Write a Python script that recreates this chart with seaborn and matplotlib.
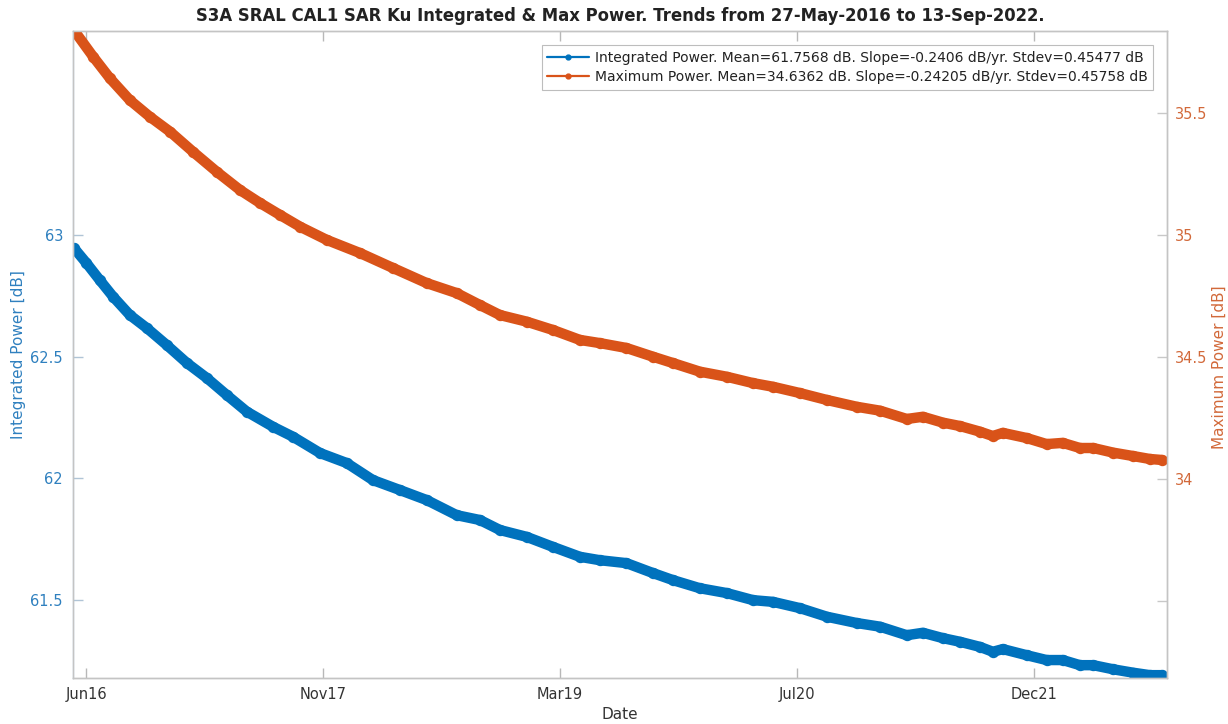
import numpy as np
import pandas as pd
import matplotlib
matplotlib.use("Agg")
import matplotlib.pyplot as plt
from matplotlib.lines import Line2D
import seaborn as sns

# ---------------- data ----------------
start_date = "2016-05-27"
end_date = "2022-09-13"

int_days = [3, 29, 57, 85, 120, 156, 198, 240, 282, 324, 366, 421, 463, 520,
            576, 631, 688, 744, 807, 856, 898, 954, 1009, 1066, 1108, 1164, 1220,
            1262, 1318, 1375, 1430, 1472, 1529, 1585, 1648, 1697, 1753, 1787, 1829,
            1865, 1907, 1934, 1955, 2005, 2047, 2081, 2117, 2145, 2187, 2229, 2264, 2289]
int_power = [62.945, 62.884, 62.814, 62.746, 62.671, 62.617, 62.547, 62.474,
             62.412, 62.342, 62.274, 62.212, 62.171, 62.104, 62.063, 61.993, 61.952,
             61.911, 61.849, 61.829, 61.788, 61.760, 61.719, 61.678, 61.664, 61.652,
             61.611, 61.582, 61.549, 61.529, 61.500, 61.493, 61.467, 61.432, 61.406,
             61.391, 61.356, 61.366, 61.344, 61.329, 61.308, 61.288, 61.299, 61.274,
             61.254, 61.254, 61.233, 61.233, 61.216, 61.202, 61.192, 61.192]

max_days = [5, 43, 78, 120, 162, 205, 253, 303, 352, 394, 436, 478, 534, 604,
            673, 744, 807, 856, 898, 954, 1009, 1066, 1108, 1164, 1220, 1262, 1318,
            1375, 1430, 1472, 1529, 1585, 1648, 1697, 1753, 1787, 1829, 1865, 1907,
            1934, 1955, 2005, 2047, 2081, 2117, 2145, 2187, 2229, 2264, 2289]
max_power = [35.833, 35.731, 35.643, 35.553, 35.485, 35.423, 35.341, 35.259,
             35.184, 35.131, 35.082, 35.034, 34.980, 34.926, 34.865, 34.803, 34.762,
             34.713, 34.672, 34.645, 34.611, 34.570, 34.557, 34.537, 34.501, 34.475,
             34.440, 34.419, 34.393, 34.378, 34.352, 34.324, 34.296, 34.280, 34.246,
             34.255, 34.231, 34.217, 34.194, 34.176, 34.189, 34.168, 34.143, 34.148,
             34.127, 34.127, 34.108, 34.094, 34.082, 34.078]

xtick_dates = ["2016-06-24", "2017-11-04", "2019-03-17", "2020-07-27", "2021-12-07"]
xtick_labels = ["Jun16", "Nov17", "Mar19", "Jul20", "Dec21"]
left_ticks = [61.5, 62, 62.5, 63]
left_tick_labels = ["61.5", "62", "62.5", "63"]
right_ticks = [33.5, 34, 34.5, 35, 35.5]
right_tick_labels = ["", "34", "34.5", "35", "35.5"]

label_int = "Integrated Power. Mean=61.7568 dB. Slope=-0.2406 dB/yr. Stdev=0.45477 dB"
label_max = "Maximum Power. Mean=34.6362 dB. Slope=-0.24205 dB/yr. Stdev=0.45758 dB"
title = "S3A SRAL CAL1 SAR Ku Integrated & Max Power. Trends from 27-May-2016 to 13-Sep-2022."

# ---------------- styling ----------------
BLUE = "#0072BD"
ORANGE = "#D95319"
BLUE_TXT = "#2f80bf"
ORANGE_TXT = "#d2693a"
SPINE = "#c4c4c4"

sns.set_style("white")
plt.rcParams["font.family"] = ["DejaVu Sans"]

t0 = pd.Timestamp(start_date)
df_int = pd.DataFrame({"date": t0 + pd.to_timedelta(int_days, unit="D"), "value": int_power})
df_max = pd.DataFrame({"date": t0 + pd.to_timedelta(max_days, unit="D"), "value": max_power})

fig = plt.figure(figsize=(12.28, 7.24), dpi=100)
ax = fig.add_axes([0.0592, 0.0631, 0.8911, 0.894])
ax2 = ax.twinx()

line_kw = dict(estimator=None, sort=False, linewidth=7.5, marker="o", markersize=7,
               markeredgewidth=1.2, legend=False)
sns.lineplot(data=df_int, x="date", y="value", ax=ax, color=BLUE,
             markerfacecolor=BLUE, markeredgecolor=BLUE, **line_kw)
sns.lineplot(data=df_max, x="date", y="value", ax=ax2, color=ORANGE,
             markerfacecolor=ORANGE, markeredgecolor=ORANGE, **line_kw)

ax.set_xlim(pd.Timestamp(start_date), pd.Timestamp(end_date))
ax.set_ylim(61.179, 63.837)
ax2.set_ylim(33.183, 35.836)

ax.set_xticks(pd.to_datetime(xtick_dates))
ax.set_xticklabels(xtick_labels)
ax.set_yticks(left_ticks)
ax.set_yticklabels(left_tick_labels)
ax2.set_yticks(right_ticks)
ax2.set_yticklabels(right_tick_labels)

ax.tick_params(axis="x", which="both", direction="in", length=7, width=1,
               color="#b8b8b8", labelsize=10.5, labelcolor="#333333", pad=6,
               top=True, bottom=True)
ax.tick_params(axis="y", direction="in", length=7, width=1, color="#b0c4d6",
               labelsize=10.5, labelcolor=BLUE_TXT, pad=7, left=True, right=False)
ax2.tick_params(axis="y", direction="in", length=7, width=1, color="#c8c8c8",
                labelsize=10.5, labelcolor=ORANGE_TXT, pad=6, right=True, left=False)

for a in (ax, ax2):
    for s in a.spines.values():
        s.set_color(SPINE)
        s.set_linewidth(1)
ax.spines["left"].set_color("#b0c4d6")

ax.set_xlabel("Date", fontsize=11, color="#333333", labelpad=4)
ax.set_ylabel("Integrated Power [dB]", fontsize=11, color=BLUE_TXT)
ax.yaxis.set_label_coords(-0.043, 0.5)
ax2.set_ylabel("Maximum Power [dB]", fontsize=11, color=ORANGE_TXT, rotation=90)
ax2.yaxis.set_label_coords(1.041, 0.48)

ax.set_title(title, fontsize=11.9, fontweight="bold", color="#222222", pad=7)

handles = [Line2D([], [], color=BLUE, lw=1.6, marker="o", markersize=3.5),
           Line2D([], [], color=ORANGE, lw=1.6, marker="o", markersize=3.5)]
leg = ax2.legend(handles, [label_int, label_max], loc="upper right",
                 fontsize=10, frameon=True, fancybox=False, framealpha=1,
                 edgecolor="#bdbdbd", handlelength=3.0, handletextpad=0.4,
                 borderpad=0.4, labelspacing=0.4, borderaxespad=1.0)
leg.get_frame().set_linewidth(0.8)
for t in leg.get_texts():
    t.set_color("#222222")

fig.savefig("out.png", dpi=100, facecolor="white")
